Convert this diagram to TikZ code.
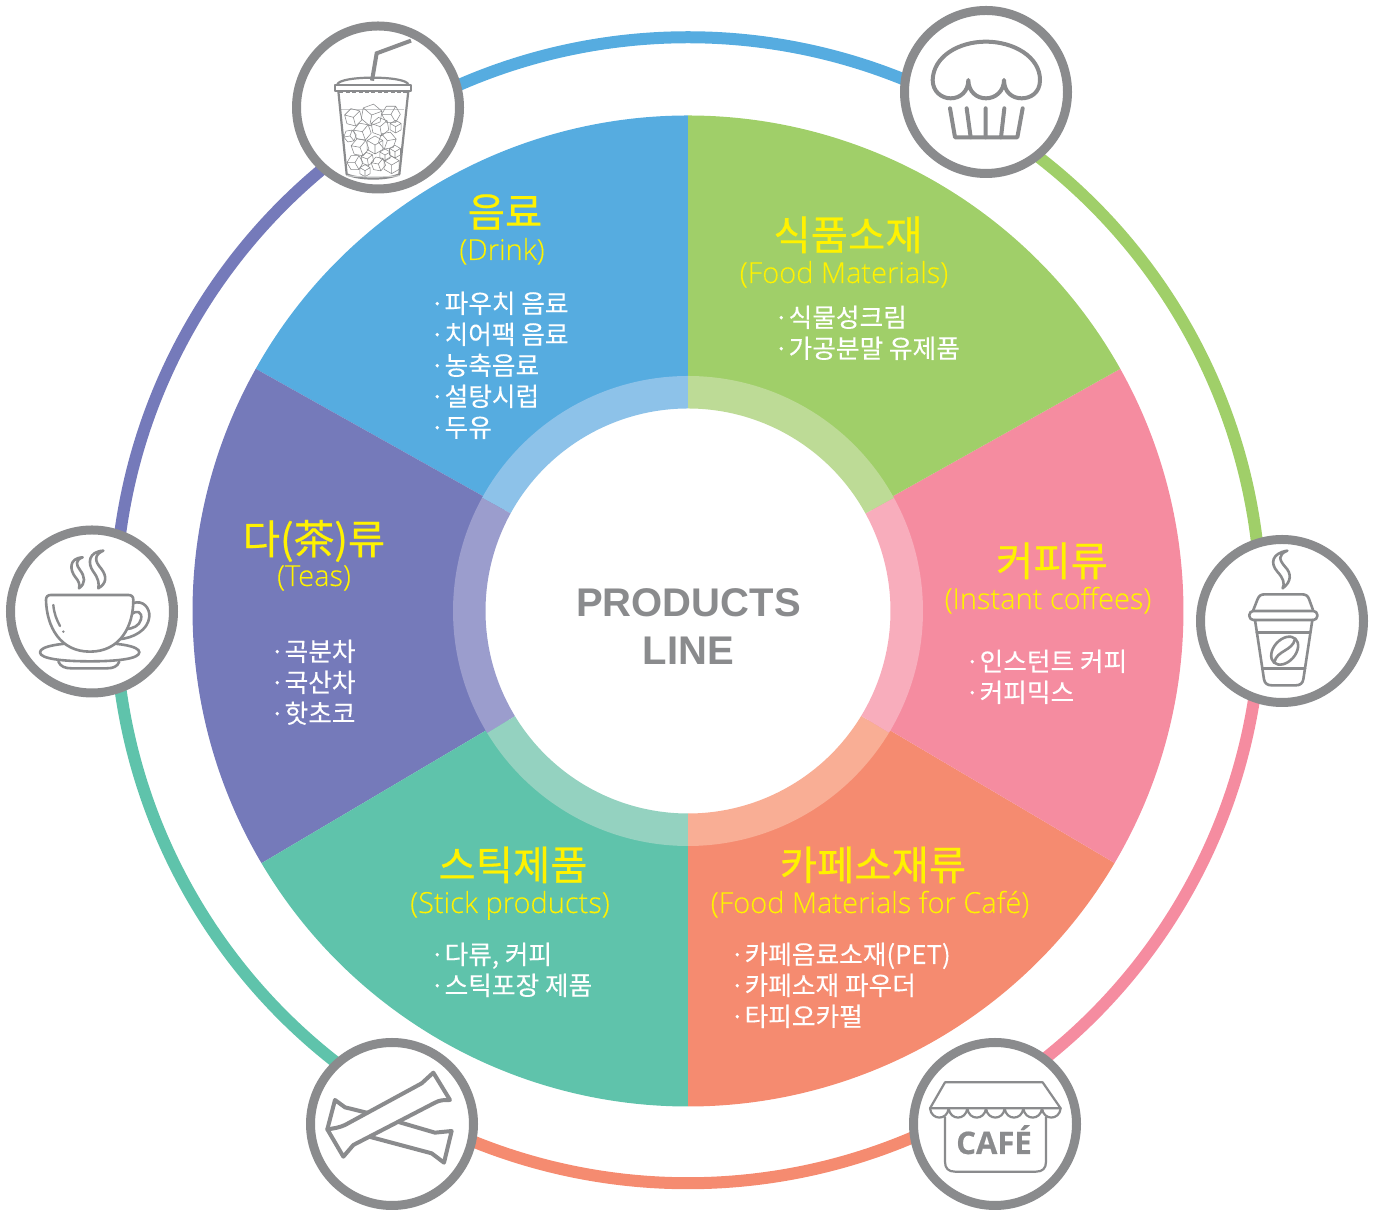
\documentclass[tikz,border=0pt]{standalone}
\usepackage{fontspec}
\setmainfont{Noto Sans CJK KR}
\newfontfamily\titlef[FakeBold=0.5]{Noto Sans CJK KR}
\newfontfamily\itemf[FakeBold=0.15]{Noto Sans CJK KR}
\newfontfamily\latinl[FakeBold=0.12]{Open Sans Light}
\newfontfamily\latinf[FakeBold=0.5]{Open Sans}
\newfontfamily\arialf{Liberation Sans}
\definecolor{cblue}{HTML}{56ACE0}
\definecolor{cgreen}{HTML}{A0CF69}
\definecolor{cpink}{HTML}{F58CA0}
\definecolor{corange}{HTML}{F58B70}
\definecolor{cteal}{HTML}{5FC3AB}
\definecolor{cpurple}{HTML}{757ABA}
\definecolor{lblue}{HTML}{8DC2E9}
\definecolor{lgreen}{HTML}{BDDB96}
\definecolor{lpink}{HTML}{F8ADBC}
\definecolor{lorange}{HTML}{F9AE95}
\definecolor{lteal}{HTML}{94D2C0}
\definecolor{lpurple}{HTML}{9B9DCD}
\definecolor{cgray}{HTML}{8A8B8D}
\definecolor{cyel}{HTML}{FFF200}
\tikzset{
  wheel/.style={line cap=butt,line width=12pt},
  badge/.style={draw=cgray,line width=9pt,fill=white},
  ico/.style={draw=cgray,line width=4pt,line cap=round,line join=round},
  icothin/.style={draw=cgray,line width=2.2pt,line cap=round,line join=round},
  title/.style={text=cyel,font=\titlef\fontsize{40.5}{40.5}\selectfont,anchor=base,inner sep=0pt},
  sub/.style={text=cyel,font=\latinl\fontsize{29}{29}\selectfont,anchor=base,inner sep=0pt},
  item/.style={text=white,font=\itemf\fontsize{25.7}{25.7}\selectfont,anchor=base west,inner sep=0pt},
  centre/.style={text=cgray,font=\arialf\bfseries\fontsize{40}{40}\selectfont,anchor=base,inner sep=0pt},
  zoomed/.style={x=0.33333pt,y=-0.33333pt}
}
\newcommand{\sectorfill}[3]{\fill[#1] (0,0) -- (#2:495.5) arc[start angle=#2,end angle=#3,radius=495.5] -- cycle;}
\newcommand{\ringfill}[3]{\fill[#1] (#2:235) arc[start angle=#2,end angle=#3,radius=235] -- (#3:202.5) arc[start angle=#3,end angle=#2,radius=202.5] -- cycle;}
\newcommand{\wheelarc}[3]{\draw[wheel,#1] (#2:573) arc[start angle=#2,end angle=#3,radius=573];}
\begin{document}
\begin{tikzpicture}[x=1pt,y=1pt]
\useasboundingbox (0,0) rectangle (1379,1212);
% sectors
\begin{scope}[shift={(688pt,601pt)}]
\sectorfill{cblue}{90}{150.74}
\sectorfill{cpurple}{150.74}{210.6}
\sectorfill{cteal}{210.6}{270}
\sectorfill{corange}{270}{329.43}
\sectorfill{cpink}{329.43}{389.26}
\sectorfill{cgreen}{29.26}{90}
\fill[white] (0,0) circle[radius=210];
\ringfill{lblue}{90}{151.2}
\ringfill{lpurple}{151.2}{211.3}
\ringfill{lteal}{211.3}{270}
\ringfill{lorange}{270}{328.8}
\ringfill{lpink}{328.8}{388.8}
\ringfill{lgreen}{28.8}{90}
\end{scope}
% outer wheel
\begin{scope}[shift={(688pt,601.75pt)}]
\wheelarc{cblue}{60}{122}
\wheelarc{cpurple}{122}{180}
\wheelarc{cteal}{180}{240}
\wheelarc{corange}{240}{301}
\wheelarc{cpink}{301}{359}
\wheelarc{cgreen}{-1}{60}
\end{scope}
% centre
\node[centre] (ctitle) at (688.5,595) {PRODUCTS};
\node[centre] (cline) at (688.5,547) {LINE};
% labels
\node[title] (t1) at (505,985) {음료};
\node[sub] (s1) at (502,952) {(Drink)};
\node[item] (i11) at (430,899) {·파우치 음료};
\node[item] (i12) at (430,868) {·치어팩 음료};
\node[item] (i13) at (430,837) {·농축음료};
\node[item] (i14) at (430,806) {·설탕시럽};
\node[item] (i15) at (430,775) {·두유};
\node[title] (t2) at (848,962) {식품소재};
\node[sub] (s2) at (844,929) {(Food Materials)};
\node[item] (i21) at (774,885) {·식물성크림};
\node[item] (i22) at (774,854) {·가공분말 유제품};
\node[title] (t3) at (1052,636) {커피류};
\node[sub] (s3) at (1048,603) {(Instant coffees)};
\node[item] (i31) at (965,541) {·인스턴트 커피};
\node[item] (i32) at (965,510) {·커피믹스};
\node[title] (t4) at (873,332) {카페소재류};
\node[sub] (s4) at (870,299) {(Food Materials for Café)};
\node[item] (i41) at (730,248) {·카페음료소재(PET)};
\node[item] (i42) at (730,217) {·카페소재 파우더};
\node[item] (i43) at (730,186) {·타피오카펄};
\node[title] (t5) at (513,332) {스틱제품};
\node[sub] (s5) at (510,299) {(Stick products)};
\node[item] (i51) at (430,248) {·다류, 커피};
\node[item] (i52) at (430,217) {·스틱포장 제품};
\node[title] (t6) at (314,658) {다(茶)류};
\node[sub] (s6) at (314,626) {(Teas)};
\node[item] (i61) at (270,551) {·곡분차};
\node[item] (i62) at (270,520) {·국산차};
\node[item] (i63) at (270,489) {·핫초코};
% badges
\fill[badge] (378,1104.5) circle[radius=81.5];
\fill[badge] (986,1120) circle[radius=81.5];
\fill[badge] (92,600.5) circle[radius=81.5];
\fill[badge] (1282,591) circle[radius=81.5];
\fill[badge] (392,88) circle[radius=81.5];
\fill[badge] (995,88) circle[radius=81.5];
% drink icon
\begin{scope}[shift={(280pt,1202pt)},zoomed]
\draw[draw=cgray!45,line width=1pt] (180,300) -- (372,300);
\foreach \x/\y/\s/\r in {220/322/27/15,275/315/33/-10,333/313/28/30,247/365/27/20,300/350/28/10,347/350/19/0,210/378/19/40,240/412/27/20,285/405/27/0,322/392/27/-20,345/425/19/0,225/458/24/30,262/447/20/10,295/462/22/20,335/465/26/0,255/482/18/0,315/435/18/0}{
  \begin{scope}[shift={(\x,\y)},rotate=\r]
  \draw[cgray,line width=0.55pt,line join=round] (30:\s) -- (90:\s) -- (150:\s) -- (210:\s) -- (270:\s) -- (330:\s) -- cycle (0,0) -- (90:\s) (0,0) -- (210:\s) (0,0) -- (330:\s);
  \end{scope}
}
\draw[icothin] (175,243) -- (200,493) .. controls (240,510) and (320,510) .. (358,493) -- (385,243);
\draw[draw=cgray!40,line width=1pt] (200,497) .. controls (240,502) and (320,502) .. (358,497);
\draw[icothin] (172,224) .. controls (175,196) and (380,196) .. (385,224);
\draw[ico,fill=white,line width=2pt] (165,226) rectangle (394,242);
\draw[cgray,line width=2.2pt,dash pattern=on 4pt off 2.4pt] (178,246) -- (383,246);
\draw[draw=cgray,line width=4pt,line join=miter] (276,212) -- (290,130) -- (393,92);
\end{scope}
% cupcake icon
\begin{scope}[shift={(890pt,1212pt)},zoomed]
\draw[ico] (128,240) .. controls (130,170) and (205,125) .. (288,125) .. controls (370,125) and (450,170) .. (450,240)
 .. controls (450,280) and (420,295) .. (395,295) .. controls (365,295) and (342,275) .. (342,240)
 .. controls (342,275) and (315,295) .. (288,295) .. controls (260,295) and (235,275) .. (235,240)
 .. controls (235,275) and (210,295) .. (182,295) .. controls (155,295) and (128,275) .. (128,240) -- cycle;
\draw[ico] (180,325) -- (195,412) -- (382,412) -- (398,325);
\draw[ico] (230,325) -- (242,412) (287,325) -- (287,412) (343,325) -- (333,412);
\end{scope}
% tea cup icon
\begin{scope}[shift={(0pt,692pt)},zoomed]
\draw[icothin,line width=2.6pt] (248,112) .. controls (205,115) and (210,150) .. (225,170) .. controls (238,185) and (240,195) .. (237,205) .. controls (258,190) and (255,170) .. (240,150) .. controls (228,135) and (225,120) .. (248,112) -- cycle;
\draw[icothin,line width=2.6pt] (310,92) .. controls (265,95) and (262,130) .. (280,155) .. controls (295,175) and (298,190) .. (295,205) .. controls (320,190) and (322,170) .. (303,145) .. controls (285,125) and (280,105) .. (310,92) -- cycle;
\draw[icothin,line width=2.6pt] (175,425) .. controls (182,440) and (195,445) .. (215,445) -- (320,445) .. controls (340,445) and (352,440) .. (358,425);
\draw[icothin,line width=2.6pt,fill=white] (120,397) .. controls (120,378) and (185,368) .. (270,368) .. controls (355,368) and (418,378) .. (418,397) .. controls (418,416) and (355,424) .. (270,424) .. controls (185,424) and (120,416) .. (120,397) -- cycle;
\draw[icothin,line width=2.6pt] (398,250) .. controls (430,238) and (450,265) .. (448,290) .. controls (445,330) and (400,355) .. (355,358);
\draw[icothin,line width=2.6pt] (392,285) .. controls (410,268) and (428,275) .. (423,298) .. controls (418,318) and (400,325) .. (378,328);
\draw[icothin,line width=2.6pt,fill=white] (138,240) .. controls (138,230) and (143,225) .. (153,225) -- (385,225) .. controls (395,225) and (400,230) .. (400,240) .. controls (400,320) and (360,395) .. (270,395) .. controls (180,395) and (140,320) .. (138,240) -- cycle;
\draw[icothin,line width=2.4pt] (160,255) .. controls (162,280) and (170,300) .. (180,318);
\fill[cgray] (190,335) circle[radius=4];
\end{scope}
% coffee icon
\begin{scope}[shift={(1190pt,682pt)},zoomed]
\draw[icothin,line width=2.6pt] (292,62) .. controls (245,70) and (240,100) .. (262,125) .. controls (280,145) and (285,160) .. (278,175) .. controls (305,155) and (305,130) .. (285,110) .. controls (268,90) and (262,75) .. (292,62) -- cycle;
\draw[icothin,line width=2.6pt] (190,240) -- (203,207) .. controls (207,197) and (213,193) .. (225,193) -- (335,193) .. controls (347,193) and (353,197) .. (357,207) -- (369,240);
\draw[icothin,line width=2.6pt,rounded corners=4pt] (178,243) rectangle (382,270);
\draw[icothin,line width=2.6pt] (195,270) -- (222,448) .. controls (224,460) and (232,466) .. (245,466) -- (318,466) .. controls (330,466) and (338,460) .. (340,448) -- (367,270);
\draw[icothin,line width=2.6pt] (200,308) -- (360,308) (217,415) -- (345,415);
\begin{scope}[shift={(284,362)},rotate=48]
\draw[icothin,line width=2.6pt] (0,0) ellipse[x radius=48,y radius=33];
\draw[icothin,line width=2.6pt] (-46,0) .. controls (-15,-18) and (15,18) .. (46,0);
\end{scope}
\end{scope}
% stick icon
\begin{scope}[shift={(300pt,182pt)},zoomed]
\draw[ico,fill=white] (105,210) -- (135,232) -- (200,248) -- (405,308) -- (455,303) -- (432,398) -- (395,370) -- (215,322) -- (120,295) -- (82,298) -- cycle;
\draw[ico,fill=white] (82,298) .. controls (100,296) and (120,292) .. (135,285) -- (365,160) -- (400,128) -- (450,210) .. controls (430,210) and (420,210) .. (405,218) -- (160,345) -- (130,380) -- cycle;
\end{scope}
% cafe icon
\begin{scope}[shift={(900pt,182pt)},zoomed]
\draw[icothin] (135,262) -- (135,395) .. controls (135,415) and (145,425) .. (165,425) -- (408,425) .. controls (428,425) and (438,415) .. (438,395) -- (438,262);
\draw[icothin] (135,157) -- (428,157) -- (482,235) -- (90,235) -- cycle;
\foreach \xa/\xb in {90/146,146/202,202/258,258/314,314/370,370/426,426/482}{
  \draw[icothin] (\xa,235) .. controls (\xa+4,272) and (\xb-4,272) .. (\xb,235);
}
\node[text=cgray,font=\latinf\bfseries\fontsize{31}{31}\selectfont,inner sep=0pt,anchor=base] (cafe) at (282,372) {CAFÉ};
\end{scope}
\end{tikzpicture}
\end{document}
